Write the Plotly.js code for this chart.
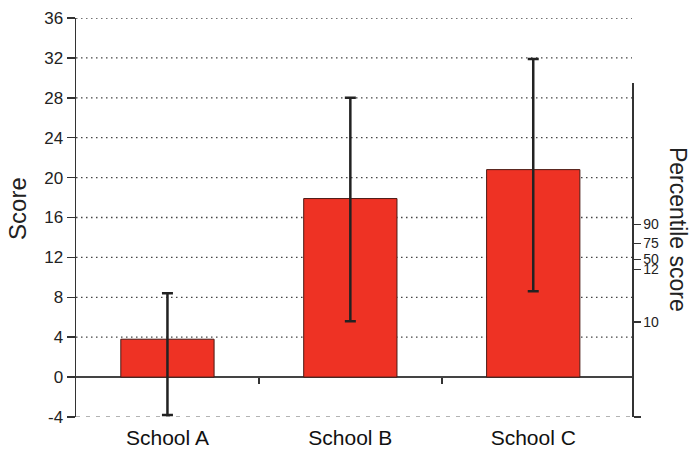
<!DOCTYPE html>
<html>
<head>
<meta charset="utf-8">
<script src="https://cdn.plot.ly/plotly-3.0.1.min.js"></script>
<style>html,body{margin:0;padding:0;background:#fff}#chart{width:692px;height:450px}</style>
</head>
<body>
<div id="chart"></div>
<script>
const categories = ['School A', 'School B', 'School C'];
const scores = [3.8, 17.9, 20.8];
const errorUpper = [8.4, 28.0, 31.9];
const errorLower = [-3.8, 5.6, 8.6];
const scoreTicks = [-4, 0, 4, 8, 12, 16, 20, 24, 28, 32, 36];
const scoreTickText = ['-4', '0', '4', '8', '12', '16', '20', '24', '28', '32', '36'];
const gridTicks = [4, 8, 12, 16, 20, 24, 28, 32, 36];
const floorTick = [-4];
const percentileLabels = ['90', '75', '50', '12', '10', ''];
const percentilePositions = [15.3, 13.4, 11.8, 10.8, 5.5, -4];
const categoryBoundaries = [0.5, 1.5];

const plus = scores.map((s, i) => errorUpper[i] - s);
const minus = scores.map((s, i) => s - errorLower[i]);

const FONT = 'Liberation Sans, Arial, Helvetica, sans-serif';
const xRange = [-0.5, 2.54];
const rightTop = 29.5;

function ghost(xa, ya, xv) {
  return {type: 'scatter', x: [xv], y: [0], xaxis: xa, yaxis: ya, mode: 'markers',
          marker: {opacity: 0}, hoverinfo: 'skip', showlegend: false};
}

const data = [
  {
    type: 'bar', x: categories, y: scores,
    marker: {color: '#EE3224', line: {color: '#4a1a14', width: 1}},
    error_y: {type: 'data', symmetric: false, array: plus, arrayminus: minus,
              color: '#222222', thickness: 2.5, width: 5.5},
    hoverinfo: 'skip'
  },
  ghost('x2', 'y', 0.5),
  ghost('x', 'y2', 'School A')
];

const shapes = gridTicks.map(v => ({
  type: 'line', layer: 'below', xref: 'paper', x0: 0, x1: 1, yref: 'y', y0: v, y1: v,
  line: {color: '#444', width: 1.3, dash: '1.5px,3.5px'}
})).concat(floorTick.map(v => ({
  type: 'line', layer: 'below', xref: 'paper', x0: 0, x1: 1, yref: 'y', y0: v, y1: v,
  line: {color: '#666', width: 1, dash: '4px,6px'}
})));

const layout = {
  width: 692, height: 450,
  margin: {l: 76, r: 60, t: 18, b: 33},
  paper_bgcolor: '#fff', plot_bgcolor: 'rgba(0,0,0,0)',
  showlegend: false,
  bargap: 0.49,
  font: {family: FONT, color: '#222', size: 16},
  shapes: shapes,
  xaxis: {
    type: 'category', range: xRange, showgrid: false, zeroline: false,
    showline: false, ticks: '', tickfont: {size: 21, color: '#111'},
    ticklabelstandoff: 6
  },
  xaxis2: {
    type: 'linear', overlaying: 'x', anchor: 'free', position: 0.1, range: xRange,
    tickvals: categoryBoundaries, ticks: 'outside', ticklen: 6, tickwidth: 1.5, tickcolor: '#333',
    showticklabels: false, showgrid: false, zeroline: false, showline: false
  },
  yaxis: {
    range: [-4, 36], tickvals: scoreTicks, ticktext: scoreTickText, showgrid: false,
    zeroline: true, zerolinecolor: '#444', zerolinewidth: 2,
    showline: true, linecolor: '#333', linewidth: 1.5,
    ticks: 'outside', ticklen: 8, tickwidth: 1.5, tickcolor: '#333',
    tickfont: {size: 17, color: '#222'}
  },
  yaxis2: {
    domain: [0, (rightTop + 4) / 40], range: [-4, rightTop], anchor: 'x', side: 'right',
    tickvals: percentilePositions, ticktext: percentileLabels,
    showgrid: false, zeroline: false, showline: true, linecolor: '#333', linewidth: 1.5,
    ticks: 'outside', ticklen: 7, tickwidth: 1.5, tickcolor: '#333',
    tickfont: {size: 14, color: '#222'}
  },
  annotations: [
    {text: 'Score', xref: 'paper', yref: 'paper', x: -0.104, y: 0.522, showarrow: false,
     textangle: -90, font: {size: 24, color: '#222'}, xanchor: 'center', yanchor: 'middle'},
    {text: 'Percentile score', xref: 'paper', yref: 'paper', x: 1.082, y: 0.47, showarrow: false,
     textangle: 90, font: {size: 23, color: '#222'}, xanchor: 'center', yanchor: 'middle'}
  ]
};

Plotly.newPlot('chart', data, layout, {displayModeBar: false, staticPlot: true});
</script>
</body>
</html>
